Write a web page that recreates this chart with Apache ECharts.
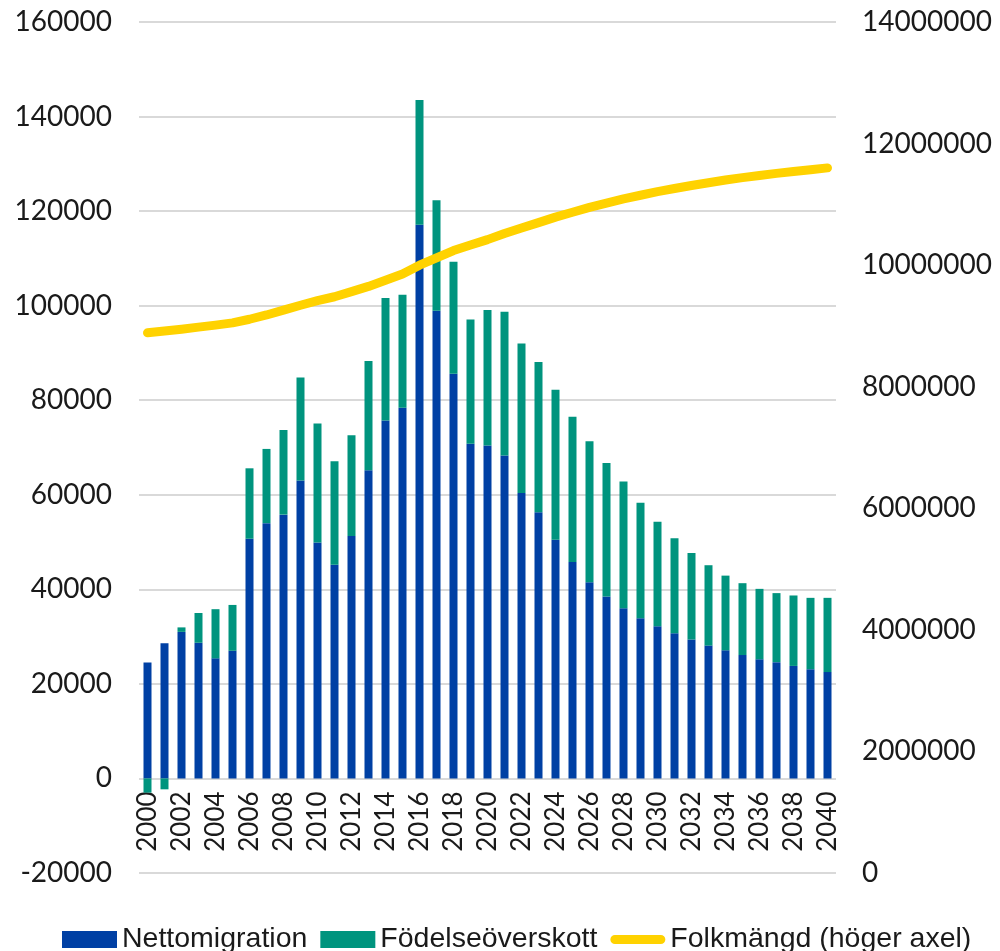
<!DOCTYPE html>
<html>
<head>
<meta charset="utf-8">
<script src="https://cdn.jsdelivr.net/npm/echarts@6/dist/echarts.min.js"></script>
<style>
  html, body { margin: 0; padding: 0; background: #fff; }
  #chart { width: 1000px; height: 951px; }
</style>
</head>
<body>
<div id="chart"></div>
<script>
// år 2000-2040
let years = [];
for (let y = 2000; y <= 2040; y++) years.push(String(y));

// Nettomigration (blå staplar)
let nettomigration = [
  24500, 28600, 31000, 28700, 25400, 27000, 50700, 54000, 55800, 63000,
  49900, 45200, 51300, 65200, 75700, 78400, 117100, 98900, 85600, 70800,
  70400, 68300, 60400, 56300, 50500, 45800, 41500, 38500, 36000, 33900,
  32200, 30700, 29400, 28100, 27100, 26100, 25200, 24600, 23800, 23100,
  22500
];

// Födelseöverskott (gröna staplar)
let fodelseoverskott = [
  -3000, -2300, 950, 6300, 10400, 9700, 14900, 15700, 17900, 21800,
  25200, 21900, 21300, 23100, 25900, 23900, 26400, 23400, 23700, 26300,
  28700, 30400, 31600, 31800, 31700, 30700, 29800, 28200, 26800, 24400,
  22100, 20100, 18300, 17000, 15800, 15200, 14900, 14600, 14900, 15100,
  15700
];

// Folkmängd (höger axel)
let folkmangd = [
  8887000, 8915000, 8945000, 8980000, 9013000, 9050000, 9110000, 9180000, 9260000, 9340000,
  9415000, 9480000, 9565000, 9650000, 9750000, 9855000, 10000000, 10120000, 10240000, 10330000,
  10420000, 10520000, 10610000, 10700000, 10790000, 10870000, 10950000, 11020000, 11090000, 11150000,
  11210000, 11260000, 11310000, 11355000, 11400000, 11440000, 11475000, 11510000, 11540000, 11570000,
  11600000
];

let leftTicks = { min: -20000, max: 160000, interval: 20000 };
let rightTicks = { min: 0, max: 14000000, interval: 2000000 };

let blue = '#0040a4', green = '#00947e', yellow = '#ffd200';
let textColor = '#1a1a1a';
let gridColor = '#d9d9d9';
let axisFont = 'Lato, "Open Sans", sans-serif';

// inga tusentalsavgränsare
let plain = function (v) { return String(v); };

let gridTop = 22, gridBottom = 78;
let plotHeight = 951 - gridTop - gridBottom;
// x-axeln ligger vid 0 på vänster axel (onZero fungerar inte här)
let zeroOffset = -plotHeight * (0 - leftTicks.min) / (leftTicks.max - leftTicks.min);

let chart = echarts.init(document.getElementById('chart'));
let option = {
  animation: false,
  grid: {
    left: 139,
    right: 164,
    top: gridTop,
    bottom: gridBottom,
    outerBoundsMode: 'none'
  },
  legend: {
    left: 57,
    top: 920,
    itemWidth: 55,
    itemHeight: 17,
    itemGap: 13,
    textStyle: {
      color: textColor,
      fontSize: 28.5,
      fontFamily: '"Liberation Sans", Arial, sans-serif'
    },
    data: [
      { name: 'Nettomigration', icon: 'rect' },
      { name: 'Födelseöverskott', icon: 'rect' },
      { name: 'Folkmängd (höger axel)', icon: 'path://M5,0 H55 A5,5 0 0 1 55,10 H5 A5,5 0 0 1 5,0 Z' }
    ]
  },
  xAxis: {
    type: 'category',
    data: years,
    position: 'bottom',
    offset: zeroOffset,
    axisLine: { show: false, onZero: false },
    axisTick: { show: false },
    axisLabel: {
      interval: 1,
      rotate: 90,
      margin: 13,
      color: textColor,
      fontSize: 26,
      fontFamily: axisFont
    }
  },
  yAxis: [
    {
      type: 'value',
      min: leftTicks.min,
      max: leftTicks.max,
      interval: leftTicks.interval,
      axisLine: { show: false },
      axisTick: { show: false },
      splitLine: { lineStyle: { color: gridColor, width: 2 } },
      axisLabel: {
        margin: 27,
        color: textColor,
        fontSize: 28,
        fontFamily: axisFont,
        formatter: plain
      }
    },
    {
      type: 'value',
      min: rightTicks.min,
      max: rightTicks.max,
      interval: rightTicks.interval,
      axisLine: { show: false },
      axisTick: { show: false },
      splitLine: { show: false },
      axisLabel: {
        margin: 26,
        color: textColor,
        fontSize: 28,
        fontFamily: axisFont,
        formatter: plain
      }
    }
  ],
  series: [
    {
      name: 'Nettomigration',
      type: 'bar',
      stack: 'total',
      barWidth: 8,
      itemStyle: { color: blue },
      data: nettomigration
    },
    {
      name: 'Födelseöverskott',
      type: 'bar',
      stack: 'total',
      barWidth: 8,
      itemStyle: { color: green },
      data: fodelseoverskott
    },
    {
      name: 'Folkmängd (höger axel)',
      type: 'line',
      yAxisIndex: 1,
      showSymbol: false,
      symbol: 'none',
      itemStyle: { color: yellow },
      lineStyle: { color: yellow, width: 9, cap: 'round', join: 'round' },
      data: folkmangd
    }
  ]
};
chart.setOption(option);
</script>
</body>
</html>
